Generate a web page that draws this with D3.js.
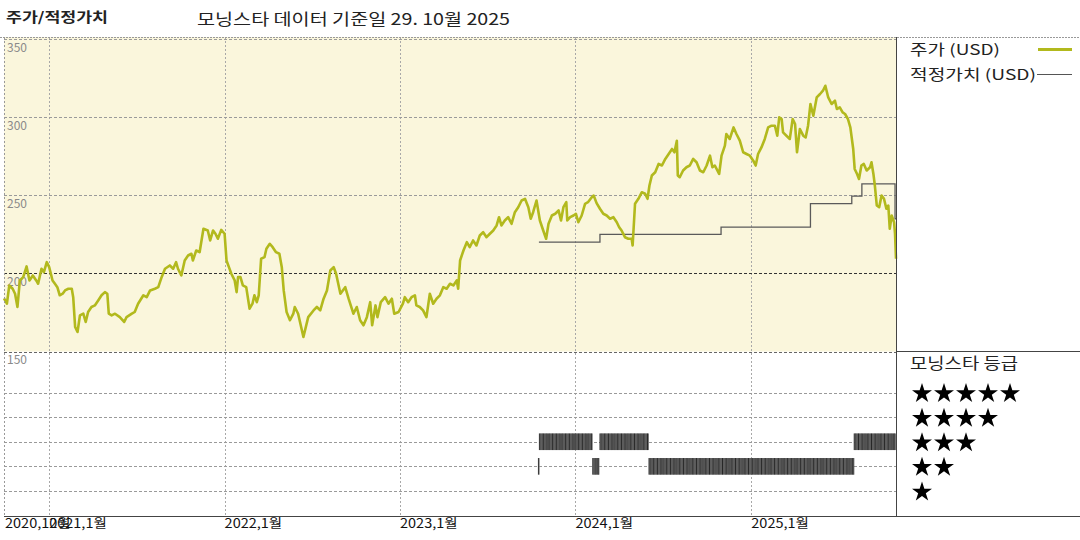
<!DOCTYPE html>
<html><head><meta charset="utf-8">
<script src="https://cdn.jsdelivr.net/npm/d3@7"></script>
<style>
body{margin:0;background:#fff;}
svg{display:block;font-family:"Noto Sans CJK KR","Noto Sans",sans-serif;}
</style>
</head><body>
<svg id="c" width="1080" height="540"></svg>
<script>
// ---------- DATA ----------
const titleLeft = "주가/적정가치";
const titleMain = "모닝스타 데이터 기준일 29. 10월 2025";
const legendPrice = "주가 (USD)";
const legendFair = "적정가치 (USD)";
const legendRating = "모닝스타 등급";

const priceTicks = [350, 300, 250, 200, 150];
const ratingLevels = [5, 4, 3, 2, 1];
const xTickDates = ["2020-09-29", "2021-01-01", "2022-01-01", "2023-01-01", "2024-01-01", "2025-01-01"];
const xTickLabels = ["2020,10월", "2021,1월", "2022,1월", "2023,1월", "2024,1월", "2025,1월"];

const priceSeries = [
["2020-09-29",184],["2020-10-05",180.6],["2020-10-10",192.3],["2020-10-17",190.2],["2020-10-22",187],["2020-10-27",178.5],
["2020-11-01",195.5],["2020-11-08",197.6],["2020-11-15",204.5],["2020-11-21",195.5],["2020-11-28",198.7],["2020-12-05",195.5],
["2020-12-09",193.4],["2020-12-16",203],["2020-12-21",200.8],["2020-12-27",207.2],
["2021-01-01",204],["2021-01-08",195.5],["2021-01-13",193.4],["2021-01-18",191.2],["2021-01-23",186],["2021-01-29",187],
["2021-02-03",189.1],["2021-02-10",190.2],["2021-02-17",190.2],["2021-02-20",184.8],["2021-02-24",165.7],["2021-03-01",162.5],
["2021-03-06",173.1],["2021-03-13",174.2],["2021-03-18",168.9],["2021-03-23",175.3],["2021-03-30",178.5],["2021-04-06",179.5],
["2021-04-13",182.7],["2021-04-20",186],["2021-04-27",188],["2021-05-02",187],["2021-05-05",174.2],["2021-05-11",173.1],
["2021-05-18",174.2],["2021-05-28",172],["2021-06-06",168.9],["2021-06-11",172],["2021-06-22",174.2],["2021-06-28",175.3],
["2021-07-05",180.6],["2021-07-16",186],["2021-07-23",184.8],["2021-07-30",189.1],["2021-08-09",190.2],["2021-08-16",191.2],
["2021-08-23",197.6],["2021-08-30",203],["2021-09-09",205.1],["2021-09-16",203],["2021-09-22",207.2],["2021-09-26",203],
["2021-10-03",198.7],["2021-10-10",208.3],["2021-10-17",211.5],["2021-10-24",212.6],["2021-10-27",208.3],["2021-11-03",214.7],
["2021-11-10",213.6],["2021-11-18",228.6],["2021-11-27",227.5],["2021-12-02",221.1],["2021-12-08",227.5],["2021-12-13",225.4],
["2021-12-18",222.2],["2021-12-25",227.9],
["2022-01-01",225.4],["2022-01-05",208.3],["2022-01-10",204],["2022-01-15",199.8],["2022-01-22",195.5],["2022-01-26",188],
["2022-01-29",197.6],["2022-02-03",197.6],["2022-02-08",192.3],["2022-02-15",191.2],["2022-02-22",177.4],["2022-02-28",180.6],
["2022-03-04",186],["2022-03-09",181.6],["2022-03-13",186],["2022-03-18",209.4],["2022-03-25",210.4],["2022-03-29",215.8],
["2022-04-05",219],["2022-04-11",216.8],["2022-04-18",213.6],["2022-04-25",212.6],["2022-04-30",204],["2022-05-04",189.1],
["2022-05-10",175.3],["2022-05-17",170],["2022-05-24",174.2],["2022-05-27",178.5],["2022-06-03",174.2],["2022-06-14",159.3],
["2022-06-24",172],["2022-07-05",176.3],["2022-07-12",178.5],["2022-07-19",176.3],["2022-07-26",183.8],["2022-08-02",189.1],
["2022-08-09",201.9],["2022-08-16",204],["2022-08-21",199.8],["2022-08-30",187],["2022-09-09",191.2],["2022-09-16",183.8],
["2022-09-26",174.2],["2022-10-03",178.5],["2022-10-10",170],["2022-10-17",166.8],["2022-10-24",172],["2022-10-31",181.6],
["2022-11-04",166.8],["2022-11-11",179.5],["2022-11-15",172],["2022-11-22",181.6],["2022-12-01",184.8],["2022-12-08",180.6],
["2022-12-15",183.8],["2022-12-20",174.2],["2022-12-29",175.3],
["2023-01-07",180.6],["2023-01-11",184.8],["2023-01-18",181.6],["2023-01-25",184.8],["2023-02-01",186],["2023-02-04",179.5],
["2023-02-11",178.5],["2023-02-18",176.3],["2023-02-25",172],["2023-03-04",187],["2023-03-11",180.6],["2023-03-18",183.8],
["2023-03-25",186],["2023-04-01",191.2],["2023-04-08",190.2],["2023-04-15",193.4],["2023-04-22",192.3],["2023-04-29",195.5],
["2023-05-02",190.2],["2023-05-06",208.3],["2023-05-13",214.7],["2023-05-20",220],["2023-05-26",216.8],["2023-06-02",221.1],
["2023-06-09",217.9],["2023-06-16",224.3],["2023-06-23",226.4],["2023-06-30",223.2],["2023-07-07",225.4],["2023-07-14",227.5],
["2023-07-21",230.7],["2023-07-26",236],["2023-07-31",230.7],["2023-08-07",233.9],["2023-08-14",236],["2023-08-21",231.8],
["2023-08-28",239.2],["2023-09-04",242.4],["2023-09-11",246.7],["2023-09-18",247.8],["2023-09-25",242.4],["2023-09-30",235],
["2023-10-05",239.2],["2023-10-12",246.7],["2023-10-19",233.9],["2023-10-26",227.5],["2023-11-01",222.2],["2023-11-06",231.8],
["2023-11-13",237.1],["2023-11-20",238.2],["2023-11-27",240.3],["2023-12-02",233.9],["2023-12-07",242.4],["2023-12-13",245.6],
["2023-12-15",233.9],["2023-12-21",236],["2023-12-28",237.1],
["2024-01-02",238.2],["2024-01-07",232.8],["2024-01-14",237.1],["2024-01-21",244.6],["2024-01-27",245.6],["2024-02-04",248.8],
["2024-02-08",249.9],["2024-02-14",245],["2024-02-21",241.4],["2024-02-28",238.2],["2024-03-06",237.1],["2024-03-13",235],
["2024-03-20",236],["2024-03-27",232.8],["2024-04-01",229.6],["2024-04-06",227.5],["2024-04-13",223.2],["2024-04-20",222.2],
["2024-04-27",222.2],["2024-04-29",217.9],["2024-05-04",244.6],["2024-05-11",247.8],["2024-05-18",252],["2024-05-25",251],
["2024-05-30",247.8],["2024-06-03",256.3],["2024-06-08",262.7],["2024-06-15",264.8],["2024-06-22",270.1],["2024-06-29",269.1],
["2024-07-06",273.3],["2024-07-13",276.5],["2024-07-20",279.7],["2024-07-25",277.6],["2024-07-30",285],["2024-08-01",262.7],
["2024-08-05",261.6],["2024-08-12",265.9],["2024-08-19",268],["2024-08-26",269.1],["2024-09-02",273.3],["2024-09-09",271.2],
["2024-09-16",265.9],["2024-09-23",264.8],["2024-09-30",269.1],["2024-10-07",275.4],["2024-10-12",268],["2024-10-17",269.1],
["2024-10-26",263.7],["2024-10-31",275.4],["2024-11-07",281.8],["2024-11-10",289.3],["2024-11-17",286.1],["2024-11-25",293.5],
["2024-12-01",289.3],["2024-12-08",285],["2024-12-15",277.6],["2024-12-22",276.5],["2024-12-29",275.4],
["2025-01-05",272.2],["2025-01-10",269.1],["2025-01-15",276.5],["2025-01-22",280.7],["2025-01-29",286.1],["2025-02-05",293.5],
["2025-02-12",294.6],["2025-02-19",294.6],["2025-02-24",288.2],["2025-02-28",300],["2025-03-05",298.9],["2025-03-08",290.3],
["2025-03-15",288.2],["2025-03-22",286.1],["2025-03-28",298.9],["2025-04-02",295.7],["2025-04-06",277.6],["2025-04-12",292.5],
["2025-04-19",288.2],["2025-04-24",287.1],["2025-04-29",294.6],["2025-05-04",308.5],["2025-05-10",301],["2025-05-17",312.7],
["2025-05-24",314.9],["2025-05-30",317],["2025-06-04",320.2],["2025-06-10",312.7],["2025-06-17",308.5],["2025-06-24",310.6],
["2025-06-28",305.3],["2025-07-04",306.3],["2025-07-10",303.1],["2025-07-15",302.1],["2025-07-21",298.9],["2025-07-26",293.5],
["2025-08-01",279.7],["2025-08-04",266.9],["2025-08-09",263.7],["2025-08-13",260.5],["2025-08-18",269.1],["2025-08-23",270.1],
["2025-08-29",265.9],["2025-09-05",268],["2025-09-08",271.2],["2025-09-12",263.7],["2025-09-15",256.3],["2025-09-19",243.5],
["2025-09-24",242.4],["2025-09-29",249.9],["2025-10-04",247.8],["2025-10-09",241.4],["2025-10-13",243.5],["2025-10-16",228.6],
["2025-10-20",237.1],["2025-10-25",232.8],["2025-10-27",225.4],["2025-10-29",209.4]
];

const fairValueSeries = [
["2023-10-17",220],["2024-02-21",225],["2024-10-30",229.6],["2025-05-04",244.7],
["2025-07-29",249.5],["2025-08-19",257.3],["2025-10-27",235],["2025-10-29",235]
];

const ratingSegments = [
["2023-10-16","2023-10-18",2],["2023-10-18","2024-02-06",3],["2024-02-06","2024-02-20",2],
["2024-02-21","2024-06-02",3],["2024-06-02","2025-08-03",2],["2025-08-03","2025-10-29",3]
];

// ---------- CHART ----------
const P = d3.timeParse("%Y-%m-%d");
const svg = d3.select("#c");
const L = 4, R = 896, TOP = 37, MID = 351.5, BOT = 516;

const x = d3.scaleTime().domain([P("2020-09-29"), P("2025-10-29")]).range([L, R]);
const yP = d3.scaleLinear().domain([150, 350]).range([MID, 39.2]);
const yR = d3.scaleLinear().domain([0, 5]).range([515.5, 392.6]);

// stretch a text horizontally to a target width (reference font is wider)
function fit(sel, w) { sel.attr("textLength", w).attr("lengthAdjust", "spacingAndGlyphs"); return sel; }

svg.append("rect").attr("x", L).attr("y", TOP).attr("width", R - L).attr("height", MID - TOP).attr("fill", "#faf6dc");

// vertical year grid
svg.append("g").selectAll("line").data(xTickDates).join("line")
  .attr("x1", d => Math.round(x(P(d))) + 0.5).attr("x2", d => Math.round(x(P(d))) + 0.5)
  .attr("y1", TOP).attr("y2", BOT)
  .attr("stroke", "#a8a8a8").attr("stroke-width", 1).attr("stroke-dasharray", "2,2");

// horizontal price grid
svg.append("g").selectAll("line").data(priceTicks).join("line")
  .attr("x1", L).attr("x2", R)
  .attr("y1", d => Math.round(yP(d)) + 0.5).attr("y2", d => Math.round(yP(d)) + 0.5)
  .attr("stroke", d => d === 200 ? "#333" : (d === 150 ? "#666" : "#9a9a9a"))
  .attr("stroke-width", 1).attr("stroke-dasharray", "3,2");

// rating grid
svg.append("g").selectAll("line").data(ratingLevels).join("line")
  .attr("x1", L).attr("x2", R)
  .attr("y1", d => Math.round(yR(d)) + 0.5).attr("y2", d => Math.round(yR(d)) + 0.5)
  .attr("stroke", "#9a9a9a").attr("stroke-width", 1).attr("stroke-dasharray", "3,2");

// y labels (below their gridlines)
svg.append("g").selectAll("text").data(priceTicks).join("text")
  .attr("x", 7).attr("y", d => yP(d) + 12.5)
  .attr("font-size", 12).attr("fill", "#8a8a8a").text(d => d);

// rating bars
const rg = svg.append("g");
ratingSegments.forEach(([s, e, r]) => {
  const x0 = x(P(s)), x1 = Math.max(x(P(e)), x0 + 1.2);
  const yc = yR(r);
  rg.append("rect").attr("x", x0).attr("y", yc - 8.3).attr("width", x1 - x0).attr("height", 16.6)
    .attr("fill", "#7a7a7a");
  const days = d3.timeDay.range(P(s), P(e), 3);
  rg.selectAll(null).data(days).join("line")
    .attr("x1", d => x(d)).attr("x2", d => x(d))
    .attr("y1", yc - 8.3).attr("y2", yc + 8.3)
    .attr("stroke", (d, i) => i % 3 === 0 ? "#111" : "#3a3a3a").attr("stroke-width", 0.8);
});

// fair value line
const fv = fairValueSeries.map(([d, v]) => ({ d: P(d), v }));
svg.append("path").datum(fv)
  .attr("d", d3.line().curve(d3.curveStepAfter).x(d => x(d.d)).y(d => yP(d.v)))
  .attr("fill", "none").attr("stroke", "#5a5a5a").attr("stroke-width", 1.3);

// price line
const pr = priceSeries.map(([d, v]) => ({ d: P(d), v }));
svg.append("path").datum(pr)
  .attr("d", d3.line().x(d => x(d.d)).y(d => yP(d.v)))
  .attr("fill", "none").attr("stroke", "#b2b91d").attr("stroke-width", 2.6)
  .attr("stroke-linejoin", "round");

// frame lines
svg.append("line").attr("x1", 0).attr("x2", 1080).attr("y1", TOP + 0.5).attr("y2", TOP + 0.5)
  .attr("stroke", "#999").attr("stroke-dasharray", "2,1");
svg.append("line").attr("x1", L + 0.5).attr("x2", L + 0.5).attr("y1", TOP).attr("y2", BOT)
  .attr("stroke", "#999").attr("stroke-dasharray", "2,2");
svg.append("line").attr("x1", R + 0.5).attr("x2", R + 0.5).attr("y1", TOP).attr("y2", BOT)
  .attr("stroke", "#444").attr("stroke-width", 1);
svg.append("line").attr("x1", R).attr("x2", 1080).attr("y1", MID).attr("y2", MID)
  .attr("stroke", "#444").attr("stroke-width", 1);
svg.append("line").attr("x1", L).attr("x2", 1080).attr("y1", BOT + 0.5).attr("y2", BOT + 0.5)
  .attr("stroke", "#444").attr("stroke-width", 1.2);

// x tick labels
svg.append("g").selectAll("text").data(xTickDates).join("text")
  .attr("x", (d, i) => x(P(d)) + (i === 0 ? 1 : 0)).attr("y", 528)
  .attr("font-size", 12.5).attr("fill", "#111")
  .text((d, i) => xTickLabels[i])
  .each(function () { const w = this.getComputedTextLength(); fit(d3.select(this), w * 1.16); });

// titles
fit(svg.append("text").attr("x", 6).attr("y", 22).attr("font-size", 13.5).attr("font-weight", "bold")
  .attr("fill", "#222").text(titleLeft), 102);
fit(svg.append("text").attr("x", 197).attr("y", 25).attr("font-size", 16)
  .attr("fill", "#222").text(titleMain), 313);

// legend
fit(svg.append("text").attr("x", 910).attr("y", 55).attr("font-size", 14.5).attr("fill", "#222")
  .text(legendPrice), 90);
svg.append("line").attr("x1", 1038).attr("x2", 1072).attr("y1", 49.5).attr("y2", 49.5)
  .attr("stroke", "#b2b91d").attr("stroke-width", 3);
fit(svg.append("text").attr("x", 910).attr("y", 80).attr("font-size", 14.5).attr("fill", "#222")
  .text(legendFair), 126);
svg.append("line").attr("x1", 1037).attr("x2", 1072).attr("y1", 74.5).attr("y2", 74.5)
  .attr("stroke", "#555").attr("stroke-width", 1.2);

fit(svg.append("text").attr("x", 910).attr("y", 369).attr("font-size", 15.5).attr("fill", "#222")
  .text(legendRating), 108);

const star = d3.symbol().type(d3.symbolStar).size(124);
const sg = svg.append("g");
ratingLevels.forEach(r => {
  for (let i = 0; i < r; i++) {
    sg.append("path").attr("d", star())
      .attr("transform", `translate(${922 + i * 22},${yR(r) + 1})`)
      .attr("fill", "#000");
  }
});
</script>
</body></html>
